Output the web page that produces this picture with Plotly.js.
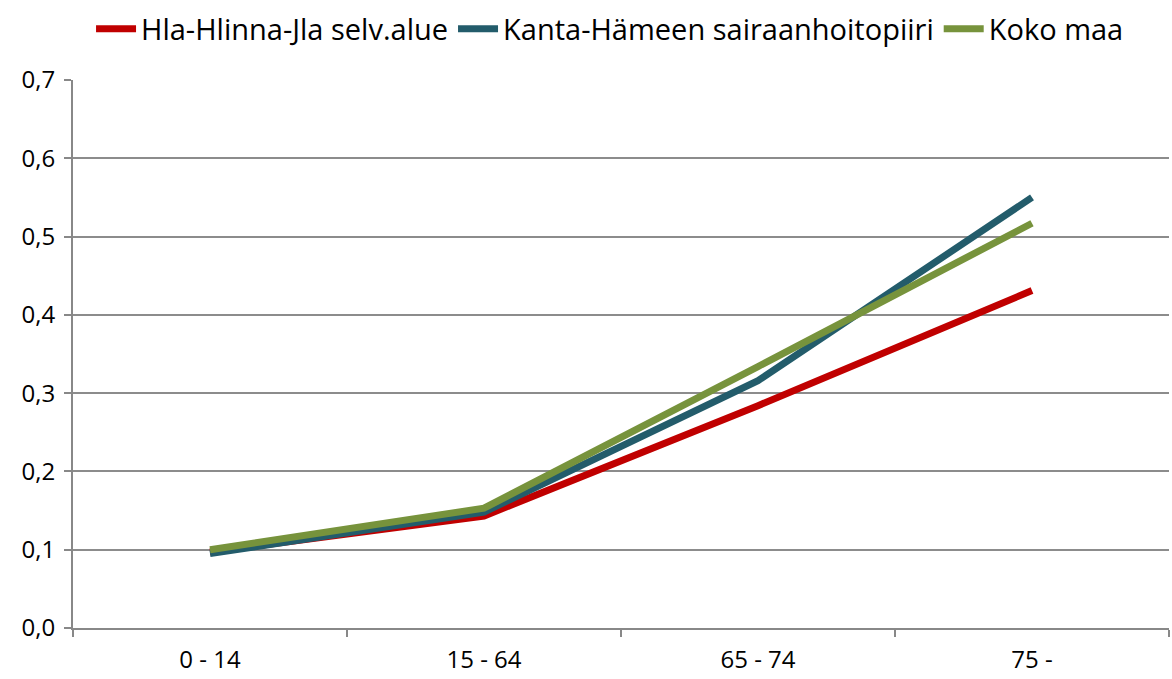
<!DOCTYPE html>
<html>
<head>
<meta charset="utf-8">
<script src="https://cdn.plot.ly/plotly-3.0.1.min.js"></script>
<style>
  html, body { margin: 0; padding: 0; background: #fff; }
  #chart { width: 1172px; height: 679px; }
</style>
</head>
<body>
<div id="chart"></div>
<script>
// age groups on the x axis
const AGE_GROUPS = ['0 - 14', '15 - 64', '65 - 74', '75 -'];

// series values
const HLA_HLINNA = [0.097, 0.143, 0.284, 0.431];
const KANTA_HAME = [0.095, 0.148, 0.316, 0.550];
const KOKO_MAA   = [0.100, 0.153, 0.334, 0.517];

const SERIES = [
  { name: 'Hla-Hlinna-Jla selv.alue',       y: HLA_HLINNA, color: '#C00000' },
  { name: 'Kanta-Hämeen sairaanhoitopiiri', y: KANTA_HAME, color: '#235C6B' },
  { name: 'Koko maa',                       y: KOKO_MAA,   color: '#77933C' },
];

const FONT = '"Open Sans", Lato, sans-serif';

const traces = SERIES.map(s => ({
  x: AGE_GROUPS, y: s.y, name: s.name, type: 'scatter', mode: 'lines',
  line: { color: s.color, width: 7 },
}));

const layout = {
  width: 1172, height: 679,
  margin: { l: 73, r: 3, t: 78, b: 51 },
  paper_bgcolor: '#fff', plot_bgcolor: '#fff',
  font: { family: FONT, size: 24, color: '#000' },
  separators: ', ',
  showlegend: true,
  legend: {
    orientation: 'h', x: 0.49, xanchor: 'center', y: 1.14, yanchor: 'top',
    font: { family: FONT, size: 29, color: '#000' },
    itemwidth: 40, tracegroupgap: 0,
  },
  xaxis: {
    type: 'category', range: [-0.5, 3.5],
    tickson: 'boundaries', ticks: 'outside', ticklen: 7, tickcolor: '#888', tickwidth: 2,
    ticklabelstandoff: 9,
    showline: true, linecolor: '#888', linewidth: 2,
    showgrid: false, zeroline: false,
    tickfont: { family: FONT, size: 24 },
  },
  yaxis: {
    range: [0, 0.7], dtick: 0.1, tickformat: '.1f',
    ticks: 'outside', ticklen: 7, tickcolor: '#888', tickwidth: 2,
    ticklabelstandoff: 4,
    showline: true, linecolor: '#888', linewidth: 2,
    showgrid: true, gridcolor: '#8c8c8c', gridwidth: 2,
    zeroline: false,
    tickfont: { family: FONT, size: 24 },
  },
};

Plotly.newPlot('chart', traces, layout, { displayModeBar: false, staticPlot: true });
</script>
</body>
</html>
